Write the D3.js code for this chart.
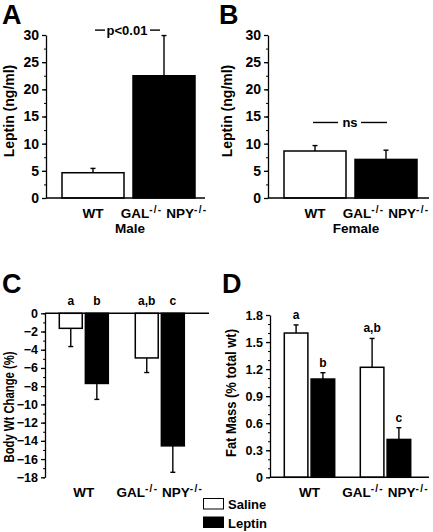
<!DOCTYPE html>
<html><head><meta charset="utf-8">
<script src="https://cdn.jsdelivr.net/npm/d3@7"></script>
<style>
body{margin:0;background:#fff}
svg{display:block;font-family:Arial,"Liberation Sans",Helvetica,sans-serif;font-weight:bold}
text{white-space:pre}
</style></head><body>
<svg id="chart" width="433" height="532"></svg>
<script>
// ---------- data ----------
const genotypes = ["WT", "GAL-/- NPY-/-"];
const treatments = ["Saline", "Leptin"];
const maleLeptin = [4.65, 22.5];
const maleLeptinSEM = [0.8, 7.4];
const femaleLeptin = [8.65, 7.1];
const femaleLeptinSEM = [1.0, 1.7];
const bwSaline = [-1.65, -4.9];
const bwSalineSEM = [2.0, 1.6];
const bwLeptin = [-7.7, -14.55];
const bwLeptinSEM = [1.75, 2.9];
const fatSaline = [1.6, 1.22];
const fatSalineSEM = [0.09, 0.32];
const fatLeptin = [1.09, 0.42];
const fatLeptinSEM = [0.07, 0.13];
const sigSaline = ["a", "a,b"];
const sigLeptin = ["b", "c"];
const leptinTicks = [0, 5, 10, 15, 20, 25, 30];
const leptinMinor = [0, 2.5, 5, 7.5, 10, 12.5, 15, 17.5, 20, 22.5, 25, 27.5, 30];
const bwTicks = [0, -2, -4, -6, -8, -10, -12, -14, -16, -18];
const bwMinor = [0, -1, -2, -3, -4, -5, -6, -7, -8, -9, -10, -11, -12, -13, -14, -15, -16, -17, -18];
const fatTicks = [0, 0.3, 0.6, 0.9, 1.2, 1.5, 1.8];
const fatMinor = [0, 0.1, 0.2, 0.3, 0.4, 0.5, 0.6, 0.7, 0.8, 0.9, 1.0, 1.1, 1.2, 1.3, 1.4, 1.5, 1.6, 1.7, 1.8];
const fills = {Saline: "#fff", Leptin: "#000"};

// ---------- helpers ----------
const svg = d3.select("#chart");

function genoLabel(g, x, y, label, size, supSize) {
  const t = g.append("text").attr("x", x).attr("y", y).attr("text-anchor", "middle")
    .attr("font-size", size);
  const parts = label.split(/(-\/-)/).filter(s => s.length);
  let raised = false;
  parts.forEach(p => {
    if (p === "-/-") {
      t.append("tspan").attr("dy", -5).attr("font-size", supSize).attr("letter-spacing", 1.3).text(p);
      raised = true;
    } else {
      const ts = t.append("tspan").text(p);
      if (raised) { ts.attr("dy", 5); raised = false; }
    }
  });
  if (raised) t.append("tspan").attr("dy", 5).text("");
}

function yAxis(g, x, scale, ticks, minor, fmt, fontSize) {
  const ax = g.append("g").attr("transform", `translate(${x},0)`)
    .call(d3.axisLeft(scale).tickValues(ticks).tickSize(4).tickSizeOuter(0).tickPadding(3).tickFormat(fmt));
  ax.attr("font-family", null).attr("font-size", fontSize);
  ax.selectAll("path,line").attr("stroke", "#000").attr("stroke-width", 1.3);
  ax.selectAll("text").attr("fill", "#000");
  const mn = g.append("g").attr("transform", `translate(${x},0)`)
    .call(d3.axisLeft(scale).tickValues(minor).tickSize(2).tickSizeOuter(0).tickFormat(""));
  mn.select(".domain").remove();
  mn.selectAll("line").attr("stroke", "#000").attr("stroke-width", 1);
}

function yTitle(g, x, y, label, size, len) {
  const t = g.append("text").attr("transform", `translate(${x},${y}) rotate(-90)`)
    .attr("text-anchor", "middle").attr("font-size", size).text(label);
  if (len) t.attr("textLength", len).attr("lengthAdjust", "spacingAndGlyphs");
}

function errBar(g, cx, y0, y1) {
  g.append("line").attr("x1", cx).attr("x2", cx).attr("y1", y0).attr("y2", y1)
    .attr("stroke", "#000").attr("stroke-width", 1.4);
  g.append("line").attr("x1", cx - 2.5).attr("x2", cx + 2.5).attr("y1", y1).attr("y2", y1)
    .attr("stroke", "#000").attr("stroke-width", 1.4);
}

// ---------- Panels A & B (leptin) ----------
function leptinPanel(cfg) {
  const g = svg.append("g");
  const y = d3.scaleLinear().domain([0, 30]).range([198, 35]);
  const x = d3.scaleBand().domain(genotypes).range(cfg.barRange).paddingInner(9 / 71);
  g.append("text").attr("x", cfg.letterX).attr("y", 24).attr("font-size", 27).text(cfg.letter);
  yAxis(g, cfg.axisX, y, leptinTicks, leptinMinor, d3.format("d"), 14);
  yTitle(g, cfg.titleX, 111, "Leptin (ng/ml)", 14);
  genotypes.forEach((gt, i) => {
    const v = cfg.values[i], s = cfg.sem[i];
    const cx = x(gt) + x.bandwidth() / 2;
    errBar(g, cx, y(v), y(v + s));
    g.append("rect").attr("x", x(gt)).attr("y", y(v)).attr("width", x.bandwidth())
      .attr("height", y(0) - y(v)).attr("fill", i === 0 ? "#fff" : "#000")
      .attr("stroke", "#000").attr("stroke-width", 1.5);
    genoLabel(g, cx, 218, gt, 13.5, 10);
  });
  g.append("line").attr("x1", cfg.axisX).attr("x2", cfg.axisEnd).attr("y1", y(0)).attr("y2", y(0))
    .attr("stroke", "#000").attr("stroke-width", 1.4);
  g.append("text").attr("x", cfg.sexX).attr("y", 233).attr("text-anchor", "middle")
    .attr("font-size", 13.5).text(cfg.sex);
  // significance annotation
  const ay = y(cfg.sigLevel);
  g.append("text").attr("x", cfg.sigX).attr("y", ay + 4.5).attr("text-anchor", "middle")
    .attr("font-size", 13).text(cfg.sig);
  cfg.sigLines.forEach(([a, b]) => g.append("line").attr("x1", a).attr("x2", b)
    .attr("y1", ay).attr("y2", ay).attr("stroke", "#000").attr("stroke-width", 1.4));
}

leptinPanel({letter: "A", letterX: 2, axisX: 46, axisEnd: 205, barRange: [62, 195], titleX: 14,
  values: maleLeptin, sem: maleLeptinSEM, sex: "Male", sexX: 130,
  sig: "p<0.01", sigLevel: 30.9, sigX: 127, sigLines: [[95, 105], [150, 160]]});
leptinPanel({letter: "B", letterX: 219, axisX: 268, axisEnd: 429, barRange: [284, 417], titleX: 232,
  values: femaleLeptin, sem: femaleLeptinSEM, sex: "Female", sexX: 356,
  sig: "ns", sigLevel: 13.9, sigX: 350, sigLines: [[313, 338], [361, 387]]});

// ---------- Panel C (body weight change) ----------
(function () {
  const g = svg.append("g");
  const y = d3.scaleLinear().domain([-18, 0]).range([477.3, 313.3]);
  const x = d3.scaleBand().domain(genotypes).range([59.3, 184.3]).paddingInner(0.355);
  const xi = d3.scaleBand().domain(treatments).range([0, x.bandwidth()]).paddingInner(0.12);
  g.append("text").attr("x", 2).attr("y", 293).attr("font-size", 27).text("C");
  yAxis(g, 45, y, bwTicks, bwMinor, d3.format("d"), 12.5);
  yTitle(g, 14, 407, "Body Wt Change (%)", 14, 111);
  const series = {Saline: [bwSaline, bwSalineSEM, sigSaline], Leptin: [bwLeptin, bwLeptinSEM, sigLeptin]};
  genotypes.forEach((gt, i) => {
    treatments.forEach(tr => {
      const [vals, sems, sig] = series[tr];
      const v = vals[i], s = sems[i];
      const bx = x(gt) + xi(tr), cx = bx + xi.bandwidth() / 2;
      errBar(g, cx, y(v), y(v - s));
      g.append("rect").attr("x", bx).attr("y", y(0)).attr("width", xi.bandwidth())
        .attr("height", y(v) - y(0)).attr("fill", fills[tr]).attr("stroke", "#000").attr("stroke-width", 1.5);
      g.append("text").attr("x", cx).attr("y", 305).attr("text-anchor", "middle")
        .attr("font-size", 12).text(sig[i]);
    });
    genoLabel(g, x(gt) + x.bandwidth() / 2, 497, gt, 13.5, 10);
  });
  g.append("line").attr("x1", 45).attr("x2", 209).attr("y1", y(0)).attr("y2", y(0))
    .attr("stroke", "#000").attr("stroke-width", 1.4);
})();

// ---------- Panel D (fat mass) ----------
(function () {
  const g = svg.append("g");
  const y = d3.scaleLinear().domain([0, 1.8]).range([477.3, 315]);
  const x = d3.scaleBand().domain(genotypes).range([284.3, 410.7]).paddingInner(0.337);
  const xi = d3.scaleBand().domain(treatments).range([0, x.bandwidth()]).paddingInner(0.12);
  g.append("text").attr("x", 222).attr("y", 293).attr("font-size", 27).text("D");
  yAxis(g, 270, y, fatTicks, fatMinor, d => d === 0 ? "0" : d.toFixed(1), 12.5);
  yTitle(g, 236, 393, "Fat Mass (% total wt)", 14, 128);
  const series = {Saline: [fatSaline, fatSalineSEM, sigSaline], Leptin: [fatLeptin, fatLeptinSEM, sigLeptin]};
  genotypes.forEach((gt, i) => {
    treatments.forEach(tr => {
      const [vals, sems, sig] = series[tr];
      const v = vals[i], s = sems[i];
      const bx = x(gt) + xi(tr), cx = bx + xi.bandwidth() / 2;
      errBar(g, cx, y(v), y(v + s));
      g.append("rect").attr("x", bx).attr("y", y(v)).attr("width", xi.bandwidth())
        .attr("height", y(0) - y(v)).attr("fill", fills[tr]).attr("stroke", "#000").attr("stroke-width", 1.5);
      g.append("text").attr("x", cx).attr("y", y(v + s) - 6).attr("text-anchor", "middle")
        .attr("font-size", 12).text(sig[i]);
    });
    genoLabel(g, x(gt) + x.bandwidth() / 2, 497, gt, 13.5, 10);
  });
  g.append("line").attr("x1", 270).attr("x2", 429).attr("y1", y(0)).attr("y2", y(0))
    .attr("stroke", "#000").attr("stroke-width", 1.4);
})();

// ---------- Legend ----------
const leg = svg.append("g");
treatments.forEach((tr, i) => {
  leg.append("rect").attr("x", 203.5).attr("y", 498.5 + i * 18.5).attr("width", 20).attr("height", 10.5)
    .attr("fill", fills[tr]).attr("stroke", "#000").attr("stroke-width", 1);
  leg.append("text").attr("x", 228).attr("y", 509 + i * 18.5).attr("font-size", 13).text(tr);
});
</script>
</body></html>
